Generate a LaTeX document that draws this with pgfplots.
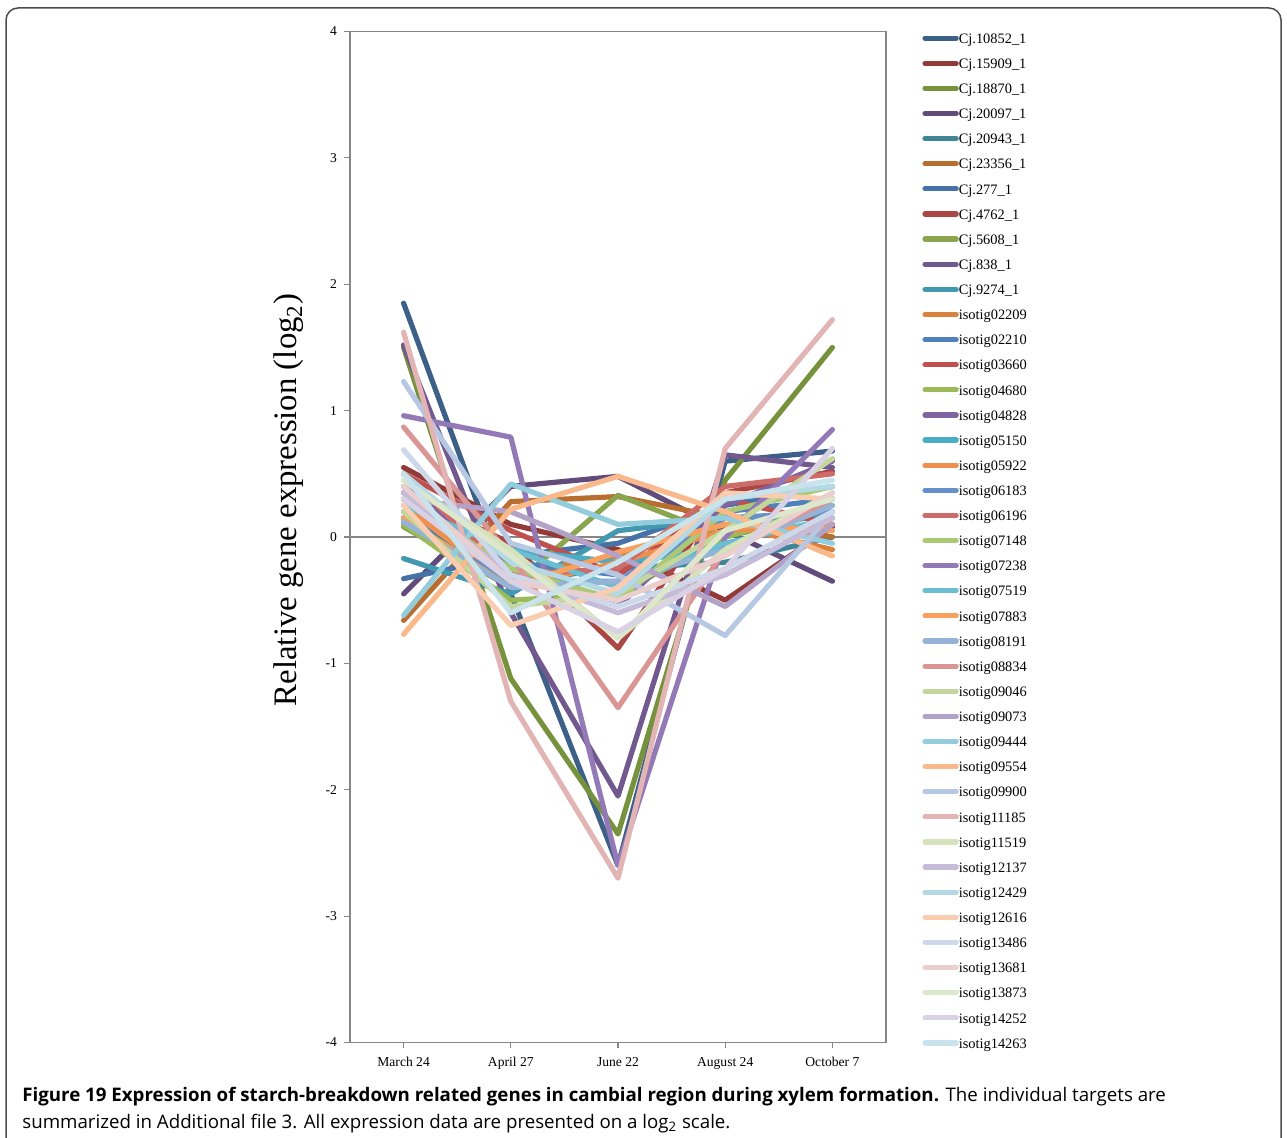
\documentclass[border=0pt]{standalone}
\usepackage{pgfplots}
\pgfplotsset{compat=1.18}
\usepackage{fontspec}
\setmainfont{Liberation Serif}
\newfontfamily\capfont{Open Sans}

% axis grey
\definecolor{axgray}{HTML}{868686}
% series colours: six hues, from darker to lighter tints
\definecolor{c1}{HTML}{3D6089}\definecolor{c2}{HTML}{923A38}\definecolor{c3}{HTML}{76923C}
\definecolor{c4}{HTML}{604B7B}\definecolor{c5}{HTML}{3F8597}\definecolor{c6}{HTML}{B86E2E}
\definecolor{c7}{HTML}{4672A7}\definecolor{c8}{HTML}{AA4643}\definecolor{c9}{HTML}{89A54E}
\definecolor{c10}{HTML}{71588F}\definecolor{c11}{HTML}{4198AF}\definecolor{c12}{HTML}{D9813D}
\definecolor{c13}{HTML}{4F81BD}\definecolor{c14}{HTML}{C0504D}\definecolor{c15}{HTML}{9BBB59}
\definecolor{c16}{HTML}{8064A2}\definecolor{c17}{HTML}{4BACC6}\definecolor{c18}{HTML}{EE8F50}
\definecolor{c19}{HTML}{6590CA}\definecolor{c20}{HTML}{CD6B68}\definecolor{c21}{HTML}{ABC874}
\definecolor{c22}{HTML}{9479B7}\definecolor{c23}{HTML}{6BBDD1}\definecolor{c24}{HTML}{F9A05E}
\definecolor{c25}{HTML}{95B3D7}\definecolor{c26}{HTML}{D99694}\definecolor{c27}{HTML}{C3D69B}
\definecolor{c28}{HTML}{B3A2C7}\definecolor{c29}{HTML}{93CDDD}\definecolor{c30}{HTML}{FAB98A}
\definecolor{c31}{HTML}{B7C8E2}\definecolor{c32}{HTML}{E2B4B3}\definecolor{c33}{HTML}{D5E2BC}
\definecolor{c34}{HTML}{C6BBD8}\definecolor{c35}{HTML}{B2D9E4}\definecolor{c36}{HTML}{FBCDB0}
\definecolor{c37}{HTML}{CDD8EA}\definecolor{c38}{HTML}{EBCFCF}\definecolor{c39}{HTML}{DDE7CC}
\definecolor{c40}{HTML}{D9D2E5}\definecolor{c41}{HTML}{C9E3EC}

\begin{document}
\begin{tikzpicture}
% page: 643.5pt x 568.5pt
\useasboundingbox (0pt,0pt) rectangle (643.5pt,568.5pt);
% frame around the figure
\draw[black!70, line width=0.75pt, rounded corners=6pt] (3pt,-25pt) -- (3pt,564.5pt) -- (640.5pt,564.5pt) -- (640.5pt,-25pt);

\begin{axis}[
  at={(201.8pt,300pt)}, anchor=origin,
  scale only axis, width=268pt, height=505.5pt,
  xmin=-0.5, xmax=4.5, ymin=-4, ymax=4,
  xtick={0,...,4},
  xticklabels={March 24,April 27,June 22,August 24,October 7},
  ytick={-4,...,4},
  yticklabels={-4,-3,-2,-1,0,1,2,3,4},
  axis line style={axgray, line width=0.6pt},
  tick style={axgray, line width=0.6pt},
  tick align=outside, tickpos=left, major tick length=3pt,
  ticklabel style={font=\fontsize{6.8}{8}\selectfont, black},
  xticklabel style={yshift=-1pt},
  every axis plot/.append style={line width=2.6pt, line cap=round, line join=round, mark=none},
  legend cell align=left,
  legend style={at={(1.0672,0.9986)}, anchor=north west, draw=none, fill=none,
    inner sep=0pt, row sep=5.96pt,
    nodes={inner sep=0pt, text height=5pt, text depth=1.6pt, font=\fontsize{7.2}{8}\selectfont}},
  legend image code/.code={\draw[#1, line width=2.6pt, line cap=round] (0pt,0.9pt) -- (15.6pt,0.9pt);},
]
\draw[axgray, line width=0.6pt] (axis cs:-0.5,0) -- (axis cs:4.5,0);

\addplot[c1]  coordinates {(0,1.85)(1,-0.45)(2,-2.60)(3,0.60)(4,0.68)};  \addlegendentry{Cj.10852\_1}
\addplot[c2]  coordinates {(0,0.55)(1,0.10)(2,-0.10)(3,-0.50)(4,0.08)};  \addlegendentry{Cj.15909\_1}
\addplot[c3]  coordinates {(0,1.50)(1,-1.12)(2,-2.35)(3,0.45)(4,1.50)};  \addlegendentry{Cj.18870\_1}
\addplot[c4]  coordinates {(0,-0.45)(1,0.40)(2,0.48)(3,0.05)(4,-0.35)};  \addlegendentry{Cj.20097\_1}
\addplot[c5]  coordinates {(0,0.15)(1,-0.35)(2,-0.25)(3,-0.20)(4,0.00)};  \addlegendentry{Cj.20943\_1}
\addplot[c6]  coordinates {(0,-0.66)(1,0.28)(2,0.32)(3,0.15)(4,0.00)};   \addlegendentry{Cj.23356\_1}
\addplot[c7]  coordinates {(0,-0.33)(1,-0.15)(2,-0.05)(3,0.25)(4,0.40)}; \addlegendentry{Cj.277\_1}
\addplot[c8]  coordinates {(0,0.35)(1,-0.05)(2,-0.88)(3,0.35)(4,0.52)};  \addlegendentry{Cj.4762\_1}
\addplot[c9]  coordinates {(0,0.08)(1,-0.40)(2,0.33)(3,0.00)(4,0.20)};   \addlegendentry{Cj.5608\_1}
\addplot[c10] coordinates {(0,1.52)(1,-0.60)(2,-2.05)(3,0.65)(4,0.55)};  \addlegendentry{Cj.838\_1}
\addplot[c11] coordinates {(0,-0.17)(1,-0.45)(2,0.05)(3,0.15)(4,0.15)};  \addlegendentry{Cj.9274\_1}
\addplot[c12] coordinates {(0,0.30)(1,-0.30)(2,-0.15)(3,0.10)(4,-0.10)}; \addlegendentry{isotig02209}
\addplot[c13] coordinates {(0,0.15)(1,-0.20)(2,-0.30)(3,0.20)(4,0.30)};  \addlegendentry{isotig02210}
\addplot[c14] coordinates {(0,0.50)(1,0.05)(2,-0.30)(3,0.30)(4,0.10)};   \addlegendentry{isotig03660}
\addplot[c15] coordinates {(0,0.10)(1,-0.50)(2,-0.45)(3,0.00)(4,0.25)};  \addlegendentry{isotig04680}
\addplot[c16] coordinates {(0,0.40)(1,-0.25)(2,-0.55)(3,0.25)(4,0.60)};  \addlegendentry{isotig04828}
\addplot[c17] coordinates {(0,0.20)(1,-0.10)(2,-0.20)(3,-0.10)(4,0.30)}; \addlegendentry{isotig05150}
\addplot[c18] coordinates {(0,0.25)(1,-0.40)(2,-0.20)(3,0.05)(4,0.10)};  \addlegendentry{isotig05922}
\addplot[c19] coordinates {(0,0.12)(1,-0.35)(2,-0.35)(3,0.15)(4,0.20)};  \addlegendentry{isotig06183}
\addplot[c20] coordinates {(0,0.50)(1,-0.30)(2,-0.25)(3,0.40)(4,0.50)};  \addlegendentry{isotig06196}
\addplot[c21] coordinates {(0,0.30)(1,-0.25)(2,-0.50)(3,0.20)(4,0.40)};  \addlegendentry{isotig07148}
\addplot[c22] coordinates {(0,0.96)(1,0.79)(2,-2.60)(3,0.00)(4,0.85)};   \addlegendentry{isotig07238}
\addplot[c23] coordinates {(0,0.25)(1,-0.10)(2,-0.40)(3,-0.05)(4,0.15)}; \addlegendentry{isotig07519}
\addplot[c24] coordinates {(0,0.15)(1,-0.40)(2,-0.12)(3,0.10)(4,0.05)};  \addlegendentry{isotig07883}
\addplot[c25] coordinates {(0,0.12)(1,-0.40)(2,-0.35)(3,-0.10)(4,0.25)}; \addlegendentry{isotig08191}
\addplot[c26] coordinates {(0,0.87)(1,-0.15)(2,-1.35)(3,-0.10)(4,0.30)}; \addlegendentry{isotig08834}
\addplot[c27] coordinates {(0,0.20)(1,-0.55)(2,-0.45)(3,0.05)(4,0.62)};  \addlegendentry{isotig09046}
\addplot[c28] coordinates {(0,0.30)(1,0.20)(2,-0.15)(3,-0.55)(4,0.10)};  \addlegendentry{isotig09073}
\addplot[c29] coordinates {(0,-0.62)(1,0.42)(2,0.10)(3,0.15)(4,-0.05)};  \addlegendentry{isotig09444}
\addplot[c30] coordinates {(0,-0.77)(1,0.22)(2,0.48)(3,0.20)(4,-0.15)};  \addlegendentry{isotig09554}
\addplot[c31] coordinates {(0,1.23)(1,-0.05)(2,-0.30)(3,-0.78)(4,0.20)}; \addlegendentry{isotig09900}
\addplot[c32] coordinates {(0,1.62)(1,-1.30)(2,-2.70)(3,0.70)(4,1.72)};  \addlegendentry{isotig11185}
\addplot[c33] coordinates {(0,0.45)(1,-0.10)(2,-0.80)(3,-0.10)(4,0.35)}; \addlegendentry{isotig11519}
\addplot[c34] coordinates {(0,0.35)(1,-0.30)(2,-0.60)(3,-0.30)(4,0.15)}; \addlegendentry{isotig12137}
\addplot[c35] coordinates {(0,0.50)(1,-0.20)(2,-0.45)(3,0.30)(4,0.40)};  \addlegendentry{isotig12429}
\addplot[c36] coordinates {(0,0.25)(1,-0.70)(2,-0.40)(3,0.35)(4,0.30)};  \addlegendentry{isotig12616}
\addplot[c37] coordinates {(0,0.69)(1,-0.30)(2,-0.55)(3,-0.25)(4,0.20)}; \addlegendentry{isotig13486}
\addplot[c38] coordinates {(0,0.40)(1,-0.35)(2,-0.50)(3,-0.15)(4,0.35)}; \addlegendentry{isotig13681}
\addplot[c39] coordinates {(0,0.45)(1,-0.15)(2,-0.80)(3,0.05)(4,0.30)};  \addlegendentry{isotig13873}
\addplot[c40] coordinates {(0,0.30)(1,-0.35)(2,-0.75)(3,-0.25)(4,0.70)}; \addlegendentry{isotig14252}
\addplot[c41] coordinates {(0,0.50)(1,-0.60)(2,-0.20)(3,0.30)(4,0.45)};  \addlegendentry{isotig14263}
\end{axis}

% vertical axis title
\node[rotate=90, font=\fontsize{16.4}{18}\selectfont] at (144.5pt,318.5pt) {Relative gene expression (log\textsubscript{2})};

% caption
\node[anchor=base west, inner sep=0pt, font=\capfont\fontsize{9.35}{11}\selectfont] at (11pt,18pt)
  {\textbf{Figure 19 Expression of starch-breakdown related genes in cambial region during xylem formation.} The individual targets are};
\node[anchor=base west, inner sep=0pt, font=\capfont\fontsize{9.35}{11}\selectfont] at (11pt,4.5pt)
  {summarized in Additional file 3. All expression data are presented on a log\textsubscript{2} scale.};
\end{tikzpicture}
\end{document}
